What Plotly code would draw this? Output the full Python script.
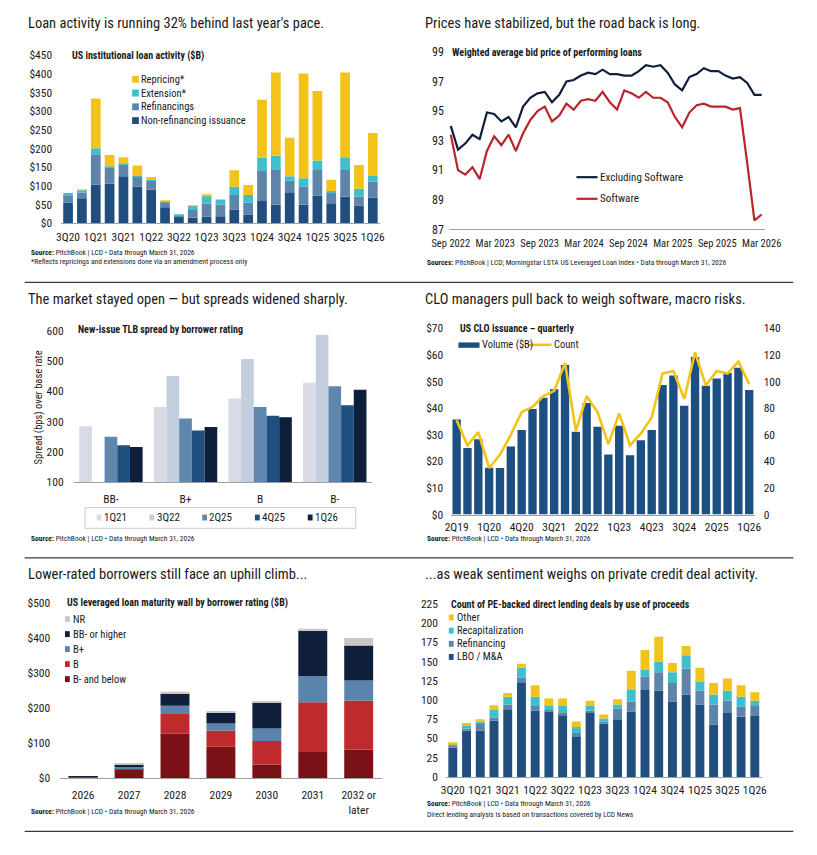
import numpy as np
import plotly.graph_objects as go

W, H = 817, 855
def X(px): return px / W
def Y(py): return 1 - py / H

FONT = "Liberation Sans Narrow, Arial Narrow, Roboto Condensed, Liberation Sans, Arial, sans-serif"
TXT = "#1a1a1a"

# ---------------- Panel 1: US institutional loan activity ($B)
p1_quarters = ["3Q20","4Q20","1Q21","2Q21","3Q21","4Q21","1Q22","2Q22","3Q22","4Q22","1Q23","2Q23",
               "3Q23","4Q23","1Q24","2Q24","3Q24","4Q24","1Q25","2Q25","3Q25","4Q25","1Q26"]
p1_nonrefi = [55, 67, 104, 106, 126, 99, 90, 43, 19, 15, 18, 19, 37, 24, 60, 50, 81, 50, 74, 54, 71, 48, 69]
p1_refi    = [18, 16, 81, 43, 32, 26, 24, 14, 2, 21, 35, 31, 39, 31, 82, 95, 33, 48, 69, 29, 72, 23, 43]
p1_ext     = [8, 6, 16, 4, 3, 2, 2, 2, 1, 11, 20, 14, 22, 21, 34, 36, 12, 23, 25, 4, 34, 22, 15]
p1_repr    = [0, 2, 133, 30, 16, 28, 8, 1, 0, 1, 5, 0, 44, 27, 155, 223, 103, 280, 186, 30, 227, 63, 115]
p1_names   = ["Non-refinancing issuance", "Refinancings", "Extension*", "Repricing*"]
p1_colors  = ["#1f4e7f", "#5f84aa", "#3fbfcc", "#f2c318"]

# ---------------- Panel 2: Weighted average bid price
p2_ticklabels = ["Sep 2022","Mar 2023","Sep 2023","Mar 2024","Sep 2024","Mar 2025","Sep 2025","Mar 2026"]
p2_ex_software = [94.0, 92.4, 92.8, 93.4, 93.1, 94.9, 94.8, 94.3, 94.6, 93.9, 95.3, 95.9, 96.2, 96.3, 95.6,
                  96.1, 97.0, 97.1, 97.4, 97.6, 97.5, 97.8, 97.5, 97.5, 97.4, 97.4, 97.7, 98.1, 98.0, 98.1,
                  97.6, 96.8, 96.4, 97.3, 97.5, 97.9, 97.7, 97.7, 97.4, 97.2, 97.3, 96.9, 96.1, 96.1]
p2_software = [93.4, 91.0, 90.7, 91.2, 90.4, 92.3, 93.3, 92.7, 93.4, 92.3, 93.5, 94.4, 95.0, 95.3, 94.3,
               94.7, 95.5, 95.1, 95.7, 95.8, 95.7, 96.3, 95.6, 95.1, 96.4, 96.2, 95.9, 96.3, 95.9, 95.9,
               95.6, 94.6, 93.9, 94.9, 95.4, 95.5, 95.3, 95.3, 95.3, 95.1, 95.2, 91.5, 87.6, 88.0]

# ---------------- Panel 3: New-issue TLB spread by borrower rating
p3_ratings = ["BB-", "B+", "B", "B-"]
p3_series = ["1Q21", "3Q22", "2Q25", "4Q25", "1Q26"]
p3_values = {
    "1Q21": [284, 348, 376, 428],
    "3Q22": [None, 450, 506, 586],
    "2Q25": [250, 310, 348, 416],
    "4Q25": [222, 270, 319, 354],
    "1Q26": [216, 282, 314, 405],
}
p3_colors = ["#d8dbe5", "#c3cfde", "#5f87ae", "#1f4f7e", "#0e1f3c"]

# ---------------- Panel 4: US CLO issuance quarterly
p4_quarters = ["2Q19","3Q19","4Q19","1Q20","2Q20","3Q20","4Q20","1Q21","2Q21","3Q21","4Q21","1Q22","2Q22","3Q22",
               "4Q22","1Q23","2Q23","3Q23","4Q23","1Q24","2Q24","3Q24","4Q24","1Q25","2Q25","3Q25","4Q25","1Q26"]
p4_volume = [35.7, 25.0, 28.3, 17.6, 17.5, 25.6, 31.8, 39.7, 43.9, 47.1, 56.2, 31.1, 41.9, 33.0,
             22.6, 33.4, 22.3, 27.9, 31.8, 48.7, 52.3, 40.9, 59.2, 48.4, 51.1, 53.2, 55.2, 46.8]
p4_count = [71, 52, 62, 35, 45, 60, 77, 81, 89, 93, 114, 63, 89, 77,
            53, 76, 52, 61, 73, 106, 108, 87, 122, 97, 108, 106, 115, 98]

# ---------------- Panel 5: maturity wall
p5_years = ["2026", "2027", "2028", "2029", "2030", "2031", "2032 or<br>later"]
p5_bminus = [3, 25, 127, 90, 39, 75, 82]
p5_b      = [1, 2, 56, 46, 67, 142, 139]
p5_bplus  = [0.5, 5, 24, 20, 36, 75, 58]
p5_bb     = [0.5, 8, 34, 31, 74, 128, 100]
p5_nr     = [0, 1, 6, 4, 2, 7, 21]
p5_names  = ["B- and below", "B", "B+", "BB- or higher", "NR"]
p5_colors = ["#7a1117", "#bf2a2c", "#5b84ad", "#0f1f3b", "#c9c7c1"]

# ---------------- Panel 6: PE-backed direct lending deals
p6_quarters = p1_quarters
p6_lbo   = [38, 60, 60, 73, 88, 123, 86, 85, 80, 52, 84, 69, 75, 85, 113, 112, 98, 107, 94, 68, 83, 78, 79]
p6_refi  = [2, 3, 10, 4, 6, 6, 6, 2, 4, 5, 2, 3, 14, 13, 17, 24, 24, 34, 18, 26, 16, 13, 13]
p6_recap = [3, 4, 2, 10, 10, 13, 12, 6, 8, 8, 6, 4, 5, 15, 9, 14, 14, 17, 12, 13, 13, 13, 7]
p6_other = [2, 3, 3, 6, 5, 5, 15, 9, 10, 7, 7, 5, 7, 25, 26, 32, 12, 12, 18, 15, 16, 15, 11]
p6_names = ["LBO / M&A", "Refinancing", "Recapitalization", "Other"]
p6_colors = ["#1f4e7f", "#5f84aa", "#3fbfcc", "#f2c318"]

fig = go.Figure()

def stack(xs, series, names, colors, xa, ya, width, group):
    base = np.zeros(len(xs))
    for vals, name, col in zip(series, names, colors):
        v = np.array(vals, dtype=float)
        fig.add_trace(go.Bar(x=xs, y=v, base=base.copy(), name=name, marker=dict(color=col, line=dict(width=0)),
                             width=width, offsetgroup=group, xaxis=xa, yaxis=ya, showlegend=False))
        base = base + v

stack(p1_quarters, [p1_nonrefi, p1_refi, p1_ext, p1_repr], p1_names, p1_colors, "x", "y", 0.7, "g1")

p2_x = list(range(len(p2_ex_software)))
fig.add_trace(go.Scatter(x=p2_x, y=p2_ex_software, mode="lines", name="Excluding Software",
                         line=dict(color="#0f1f3b", width=2.2), xaxis="x2", yaxis="y2", showlegend=False))
fig.add_trace(go.Scatter(x=p2_x, y=p2_software, mode="lines", name="Software",
                         line=dict(color="#b8262b", width=2.2), xaxis="x2", yaxis="y2", showlegend=False))

for s, col in zip(p3_series, p3_colors):
    fig.add_trace(go.Bar(x=p3_ratings, y=p3_values[s], name=s, marker=dict(color=col, line=dict(width=0)),
                         xaxis="x3", yaxis="y3", showlegend=False))

fig.add_trace(go.Bar(x=p4_quarters, y=p4_volume, name="Volume ($B)", marker=dict(color="#1c4f82", line=dict(width=0)),
                     width=0.77, offsetgroup="g4", xaxis="x4", yaxis="y4", showlegend=False))
fig.add_trace(go.Scatter(x=p4_quarters, y=p4_count, name="Count", mode="lines",
                         line=dict(color="#f2c418", width=2.6), xaxis="x4", yaxis="y7", showlegend=False))

stack(p5_years, [p5_bminus, p5_b, p5_bplus, p5_bb, p5_nr], p5_names, p5_colors, "x5", "y5", 0.63, "g5")
stack(p6_quarters, [p6_lbo, p6_refi, p6_recap, p6_other], p6_names, p6_colors, "x6", "y6", 0.65, "g6")

tickfont = dict(family=FONT, size=11.5, color=TXT)
AXC = "#a0a0a0"

def xax(dom, anchor, **kw):
    d = dict(domain=[X(dom[0]), X(dom[1])], anchor=anchor, showgrid=False, zeroline=False, tickangle=0,
             showline=True, linecolor=AXC, linewidth=1, ticks="", tickfont=tickfont, fixedrange=True)
    d.update(kw)
    return d

def yax(dom, anchor, **kw):
    d = dict(domain=[Y(dom[0]), Y(dom[1])], anchor=anchor, showgrid=False, zeroline=False,
             showline=False, ticks="", tickfont=tickfont, fixedrange=True)
    d.update(kw)
    return d

fig.update_layout(
    width=W, height=H, margin=dict(l=0, r=0, t=0, b=0),
    paper_bgcolor="white", plot_bgcolor="white",
    barmode="group", bargap=0.15, bargroupgap=0,
    font=dict(family=FONT, color=TXT),
    showlegend=False,
    xaxis=xax((46, 378), "y", type="category", tickmode="array", tickvals=p1_quarters[::2], ticklabelstandoff=3),
    yaxis=yax((220, 49), "x", range=[0, 450], dtick=50, tickprefix="$", ticklabelstandoff=8),
    xaxis2=xax((450, 780), "y2", range=[-0.27, 43.53], tickmode="array",
               tickvals=list(np.linspace(0, len(p2_x) - 1, len(p2_ticklabels))), ticktext=p2_ticklabels,
               ticklabelstandoff=4, tickfont=dict(family=FONT, size=10.5, color=TXT)),
    yaxis2=yax((226, 45.7), "x2", range=[87, 99], tick0=87, dtick=2, ticklabelstandoff=4,
               tickfont=dict(family=FONT, size=12, color=TXT)),
    xaxis3=xax((59, 370), "y3", type="category", ticklabelstandoff=6),
    yaxis3=yax((483, 329), "x3", range=[100, 600], dtick=100, ticklabelstandoff=9),
    xaxis4=xax((452.5, 768.7), "y4", type="category", tickmode="array", tickvals=p4_quarters[::3], ticklabelstandoff=2),
    yaxis4=yax((516, 326.7), "x4", range=[0, 70], dtick=10, tickprefix="$", ticklabelstandoff=7),
    yaxis7=dict(overlaying="y4", anchor="x4", side="right", range=[0, 140], dtick=20, showgrid=False,
                zeroline=False, showline=False, ticks="", tickfont=tickfont, ticklabelstandoff=8, fixedrange=True),
    xaxis5=xax((45, 380), "y5", type="category", ticklabelstandoff=6),
    yaxis5=yax((784, 606), "x5", range=[0, 500], dtick=100, tickprefix="$", ticklabelstandoff=9),
    xaxis6=xax((447, 776), "y6", type="category", tickmode="array", tickvals=p6_quarters[::2], ticklabelstandoff=2),
    yaxis6=yax((782.7, 606.7), "x6", range=[0, 225], dtick=25, ticklabelstandoff=7),
)

shapes = []
annots = []

def text(x, y, t, size=10, bold=False, color=TXT, xanchor="left", **kw):
    if bold:
        t = "<b>" + t + "</b>"
    annots.append(dict(x=X(x), y=Y(y), xref="paper", yref="paper", text=t, showarrow=False,
                       xanchor=xanchor, yanchor="middle", font=dict(family=FONT, size=size, color=color), **kw))

def rect(x0, y0, x1, y1, fill=None, line=None):
    shapes.append(dict(type="rect", xref="paper", yref="paper", x0=X(x0), x1=X(x1), y0=Y(y1), y1=Y(y0),
                       fillcolor=fill or "rgba(0,0,0,0)",
                       line=dict(width=1 if line else 0, color=line or "rgba(0,0,0,0)")))

def hline(x0, x1, y, color, width):
    shapes.append(dict(type="line", xref="paper", yref="paper", x0=X(x0), x1=X(x1), y0=Y(y), y1=Y(y),
                       line=dict(color=color, width=width)))

# headlines
HEAD = 14.5
text(9, 17, "Loan activity is running 32% behind last year's pace.", HEAD)
text(423, 17, "Prices have stabilized, but the road back is long.", HEAD)
text(9, 297, "The market stayed open — but spreads widened sharply.", HEAD)
text(423, 297, "CLO managers pull back to weigh software, macro risks.", HEAD)
text(9, 577, "Lower-rated borrowers still face an uphill climb...", HEAD)
text(423, 577, "...as weak sentiment weighs on private credit deal activity.", HEAD)

# rules
for yy in (280, 560, 838):
    hline(8, 809, yy, "#3a3a3a", 1.2)

# subtitles
text(55, 49, "US institutional loan activity ($B)", 10, bold=True)
text(451, 46, "Weighted average bid price of performing loans", 10, bold=True)
text(62, 328, "New-issue TLB spread by borrower rating", 10, bold=True)
text(460, 327, "US CLO issuance – quarterly", 10, bold=True)
text(50, 605, "US leveraged loan maturity wall by borrower rating ($B)", 10, bold=True)
text(450, 607, "Count of PE-backed direct lending deals by use of proceeds", 10, bold=True)

# sources
SRC = "<b>Source:</b> PitchBook | LCD • Data through March 31, 2026"
text(12, 250, SRC, 7.5)
text(12, 259, "*Reflects repricings and extensions done via an amendment process only", 7.5)
text(425, 260, "<b>Sources:</b> PitchBook | LCD; Morningstar LSTA US Leveraged Loan Index • Data through March 31, 2026", 7.5)
text(12, 540, SRC, 7.5)
text(425, 540, SRC, 7.5)
text(12, 818, SRC, 7.5)
text(425, 810, SRC, 7.5)
text(425, 821, "Direct lending analysis is based on transactions covered by LCD News", 7.5)

# legend panel 1
for i, (nm, col) in enumerate(zip(p1_names[::-1], p1_colors[::-1])):
    cy = 73.5 + i * 14
    rect(120, cy - 3.5, 127, cy + 3.5, fill=col)
    text(127.5, cy, nm, 10.5)

# legend panel 2
for i, (nm, col) in enumerate([("Excluding Software", "#0f1f3b"), ("Software", "#b8262b")]):
    cy = 173 + i * 22
    hline(583, 605, cy, col, 2.2)
    text(605.5, cy, nm, 11)

# legend panel 3
rect(71, 509, 353, 530, line="#c8c8c8")
for i, (nm, col) in enumerate(zip(p3_series, p3_colors)):
    x0 = 83 + i * 55
    rect(x0, 516, x0 + 5, 522, fill=col)
    text(x0 + 5.5, 519, nm, 11)

# legend panel 4
rect(460, 341, 482, 346.5, fill="#1c4f82")
text(483, 343.5, "Volume ($B)", 10.5)
hline(532, 557, 343.5, "#f2c418", 2.6)
text(557.5, 343.5, "Count", 10.5)

# legend panel 5
for i, (nm, col) in enumerate(zip(p5_names[::-1], p5_colors[::-1])):
    cy = 622.3 + i * 15.25
    rect(50, cy - 3, 55, cy + 3, fill=col)
    text(56, cy, nm, 10.5)

# legend panel 6
for i, (nm, col) in enumerate(zip(p6_names[::-1], p6_colors[::-1])):
    cy = 620.7 + i * 13.35
    rect(450, cy - 3, 455, cy + 3, fill=col)
    text(456, cy, nm, 10.5)

# panel 3 y-axis title
annots.append(dict(x=X(22), y=Y(407), xref="paper", yref="paper", text="Spread (bps) over base rate",
                   showarrow=False, textangle=-90, xanchor="center", yanchor="middle",
                   font=dict(family=FONT, size=10.5, color=TXT)))

fig.update_layout(shapes=shapes, annotations=annots)
fig.write_html("out.html", config={"displayModeBar": False},
               post_script="document.body.style.margin='0px';document.body.style.overflow='hidden';")
